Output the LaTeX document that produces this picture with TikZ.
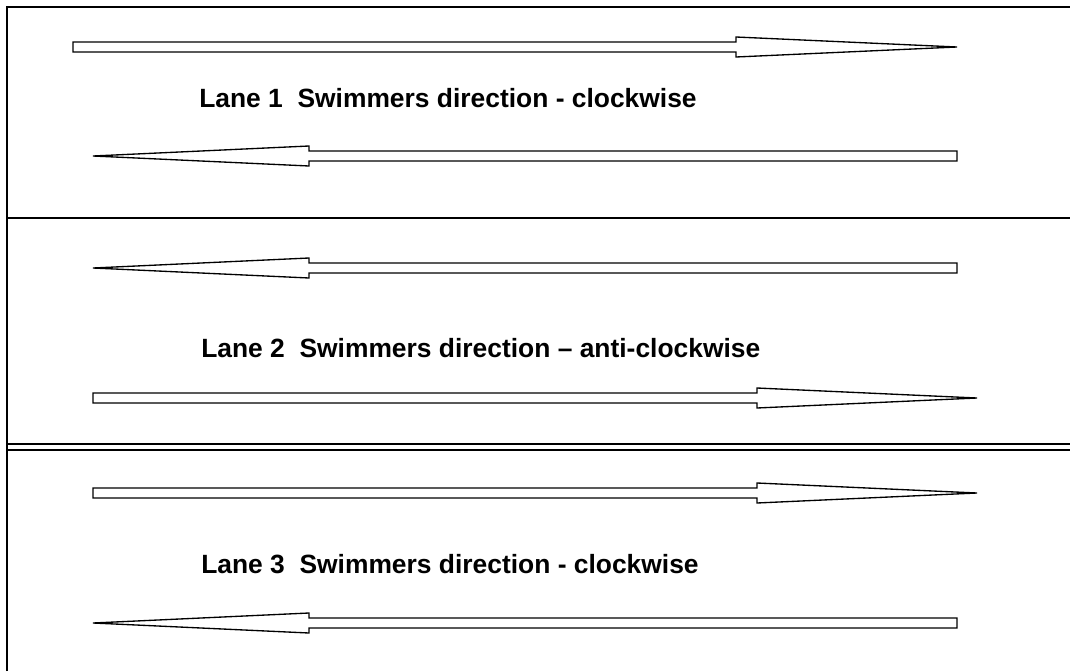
\documentclass[tikz,border=0pt]{standalone}
\usepackage{fontspec}
\setmainfont{Liberation Sans}
\newcommand\swimarrow[4]{%
  \draw[arrowshape] (#1,#4-5) -- (#2,#4-5) -- (#2,#4-10) -- (#3,#4) -- (#2,#4+10) -- (#2,#4+5) -- (#1,#4+5) -- cycle;}
\begin{document}
\begin{tikzpicture}[x=0.75pt,y=-0.75pt,
  arrowshape/.style={draw=black,line width=1pt,fill=white,line join=miter},
  frameline/.style={line width=1.5pt},
  divider/.style={line width=2pt},
  thinline/.style={line width=0.9pt},
  lanelabel/.style={anchor=base west,inner sep=0pt,font=\fontsize{19.8}{24}\selectfont\bfseries}]
\useasboundingbox (0,0) rectangle (1070,671);
% frame
\draw[frameline] (7,671) -- (7,7) -- (1070,7);
\draw[divider] (7,218) -- (1070,218);
\draw[thinline] (7,444) -- (1070,444);
\draw[thinline] (7,450) -- (1070,450);
% lane 1
\swimarrow{73}{736}{957}{47}
\node[lanelabel] (l1) at (199,107) {Lane 1\ \ Swimmers direction - clockwise};
\swimarrow{957}{309}{93}{156}
% lane 2
\swimarrow{957}{309}{93}{268}
\node[lanelabel] (l2) at (201,357) {Lane 2\ \ Swimmers direction – anti-clockwise};
\swimarrow{93}{757}{977}{398}
% lane 3
\swimarrow{93}{757}{977}{493}
\node[lanelabel] (l3) at (201,573) {Lane 3\ \ Swimmers direction - clockwise};
\swimarrow{957}{309}{93}{623}
\end{tikzpicture}
\end{document}
